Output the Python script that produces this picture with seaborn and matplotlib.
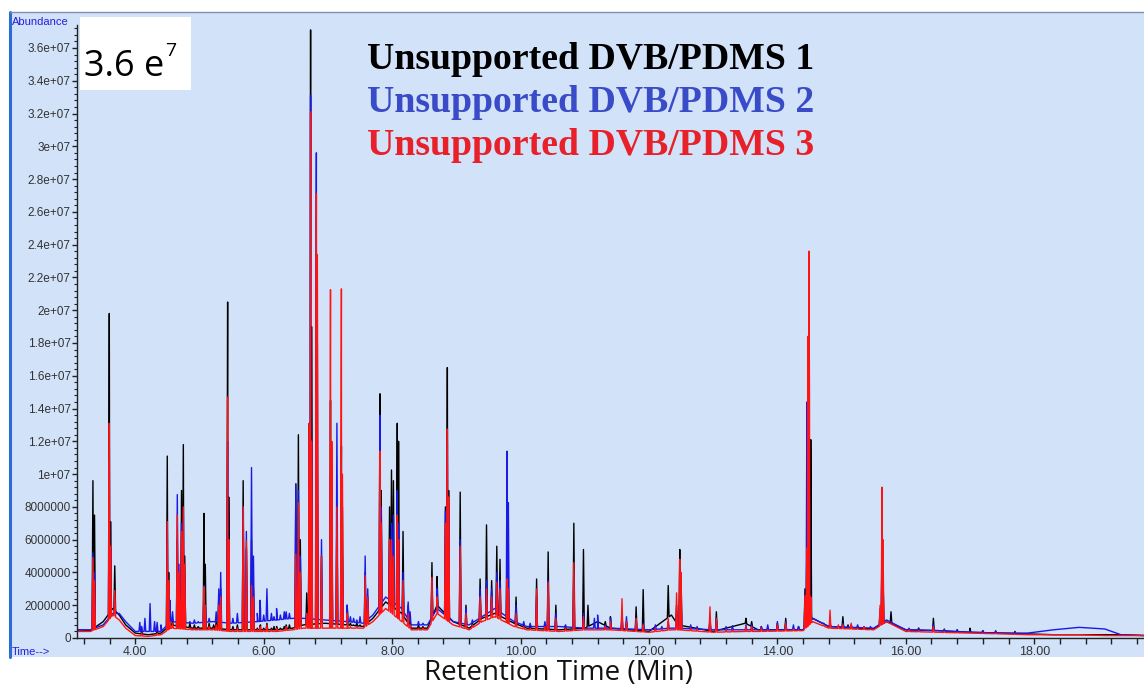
import numpy as np
import pandas as pd
import matplotlib
matplotlib.use("Agg")
import matplotlib.pyplot as plt
import seaborn as sns
from matplotlib.patches import Rectangle
from matplotlib.lines import Line2D
from matplotlib.ticker import MultipleLocator, FuncFormatter

# ---------------- data (abundance in millions) ----------------
series_names = ["Unsupported DVB/PDMS 1", "Unsupported DVB/PDMS 2", "Unsupported DVB/PDMS 3"]

peak_times = [3.34, 3.365, 3.595, 3.615, 3.68, 4.15, 4.23, 4.30, 4.498, 4.52,
              4.654, 4.68, 4.72, 4.748, 4.77, 5.07, 5.09, 5.30, 5.33, 5.438,
              5.455, 5.68, 5.73, 5.81, 5.84, 5.95, 6.05, 6.20, 6.35, 6.50,
              6.54, 6.57, 6.67, 6.71, 6.73, 6.745, 6.82, 6.835, 6.90, 7.04,
              7.06, 7.14, 7.21, 7.225, 7.30, 7.58, 7.62, 7.81, 7.83, 7.96,
              7.99, 8.02, 8.08, 8.10, 8.17, 8.25, 8.62, 8.70, 8.83, 8.86,
              8.88, 9.06, 9.15, 9.37, 9.47, 9.55, 9.63, 9.68, 9.79, 9.81,
              9.93, 10.25, 10.43, 10.55, 10.83, 10.98, 11.05, 11.20, 11.40, 11.58,
              11.65, 11.80, 11.91, 12.30, 12.43, 12.48, 12.50, 12.95, 13.05, 13.51,
              13.60, 14.00, 14.13, 14.43, 14.46, 14.475, 14.49, 14.50, 14.52, 14.82,
              15.02, 15.15, 15.60, 15.63, 15.645, 15.77, 16.43, 17.00]

black_peaks = [9.6, 7.5, 19.8, 7.1, 4.4, np.nan, np.nan, np.nan, 11.1, 4.0,
               6.0, 3.5, 9.0, 11.8, 5.0, 7.6, 4.5, 2.5, 3.0, 20.5,
               8.6, 9.6, 5.5, 6.0, 3.0, 0.8, 0.9, 0.7, 0.8, 9.4,
               12.4, 6.0, 2.75, 13.1, 37.1, 19.0, 14.0, 10.0, 5.0, 14.5,
               10.0, 8.0, 11.7, 8.0, 2.0, 4.0, 2.5, 14.9, 9.0, 8.0,
               10.25, 9.6, 13.1, 12.0, 6.5, 2.0, 4.6, 3.75, 8.0, 16.5,
               9.0, 8.9, 2.0, 3.6, 6.9, 3.5, 5.6, 4.8, 5.0, 3.0,
               2.5, 3.6, 5.25, 2.0, 7.0, 5.4, 2.0, np.nan, 1.3, 1.2,
               1.0, 1.9, 2.95, 3.2, 2.0, 5.4, 3.5, 1.3, 1.6, 1.2,
               1.0, 0.9, 1.2, 3.0, 6.0, 10.0, 8.0, 6.0, 12.1, 0.9,
               1.3, 0.8, 1.5, 5.3, 4.0, 1.6, 1.2, 0.6]

blue_peaks = [5.2, 4.0, 11.0, 5.5, 2.5, 1.2, 2.1, 1.0, 7.1, 3.0,
              8.75, 4.5, 7.0, 7.8, 4.0, 3.2, 2.0, 3.0, 4.0, 12.0,
              6.0, 8.0, 6.5, 10.4, 5.0, 1.8, 3.0, 1.8, 1.6, 9.4,
              9.0, 5.0, 1.5, 12.0, 33.1, 12.0, 29.6, 18.0, 6.0, 10.0,
              6.0, 13.1, 8.0, 5.0, 2.0, 5.0, 3.0, 13.6, 8.0, 6.0,
              7.0, 7.5, 9.0, 7.0, 4.0, 2.2, 3.5, 3.0, 7.75, 12.0,
              8.0, 6.0, 1.8, 3.0, 3.5, 3.0, 4.0, 3.5, 11.4, 8.25,
              2.0, 2.5, 3.5, 1.5, 4.0, 1.5, np.nan, 1.4, 1.2, 1.5,
              1.3, 1.2, 0.9, 1.0, 1.5, 3.0, 2.5, 1.0, 1.2, 0.8,
              0.8, 1.0, 1.0, 2.5, 14.4, 7.0, 12.0, 8.0, 2.5, 0.9,
              0.9, 0.7, 1.8, 6.4, 4.0, 1.0, 0.8, 0.4]

red_peaks = [4.9, 3.5, 13.1, 5.6, 2.9, np.nan, np.nan, np.nan, 7.1, 3.5,
             7.5, 4.0, 6.5, 8.0, 4.5, 3.1, 2.0, 2.0, 2.5, 14.7,
             6.0, 8.0, 5.9, 3.2, 2.5, 0.7, 0.8, 0.6, 0.7, 5.1,
             8.25, 4.0, 1.5, 13.1, 32.1, 12.0, 27.1, 23.4, 5.0, 21.25,
             12.0, 8.0, 21.3, 10.0, 1.5, 3.8, 2.5, 11.4, 7.0, 6.0,
             6.0, 5.0, 7.5, 6.0, 3.5, 1.5, 3.7, 2.5, 7.0, 12.75,
             8.6, 5.6, 1.5, 2.5, 3.0, 2.5, 3.4, 3.0, 3.6, 3.0,
             1.5, 3.0, 3.4, 1.2, 4.6, 1.3, np.nan, np.nan, 1.0, 2.4,
             1.0, 1.2, 0.8, 1.2, 2.75, 4.8, 4.0, 1.9, 1.2, 0.7,
             0.7, 0.8, 0.9, 2.6, 5.5, 18.4, 23.6, 15.0, 2.5, 1.7,
             0.8, 0.9, 2.0, 9.2, 6.0, 0.8, 0.7, 0.3]

# small baseline wiggles
noise_times = [4.07, 4.10, 4.34, 4.40, 4.54, 4.58, 4.85, 4.92, 4.98, 5.15,
               5.22, 5.26, 5.52, 5.59, 5.90, 5.94, 6.00, 6.12, 6.16, 6.26,
               6.32, 6.40, 7.35, 7.40, 7.45, 7.50, 8.28, 8.41, 8.48, 9.16,
               9.25, 10.05, 10.15, 10.38, 10.70, 11.15, 11.32, 12.10, 12.20, 12.65,
               12.75, 13.20, 13.30, 13.75, 13.85, 14.25, 14.33, 14.65, 14.72, 14.95,
               15.10, 15.25, 15.35, 15.45, 15.90, 16.05, 16.20, 16.60, 16.80, 17.20,
               17.40, 17.70]

black_noise = [np.nan, 0.4, 0.45, np.nan, 1.2, 1.0, 0.9, 0.8, 0.7, 0.9,
               0.8, 1.0, 0.7, 0.8, 0.6, 0.7, 0.6, 0.6, 0.7, 0.6,
               0.7, 0.8, 0.9, 0.8, 0.9, 0.8, 1.0, 0.8, 0.7, np.nan,
               0.9, 0.8, 0.8, 0.8, 0.7, np.nan, 1.0, 0.6, 0.6, 0.6,
               0.6, 0.6, 0.55, 0.7, 0.6, 0.6, 0.7, 0.9, 0.9, 0.7,
               0.8, 0.7, 0.65, 0.6, 0.65, 0.55, 0.6, 0.5, 0.5, 0.45,
               0.4, 0.4]

blue_noise = [0.95, 0.7, 0.95, 0.8, 2.3, 1.6, 1.0, 1.1, 1.0, 1.2,
              1.0, 1.6, 1.2, 1.5, 1.5, 2.3, 1.4, 1.5, 1.3, 1.4,
              1.6, 1.5, 1.3, 1.2, 1.1, 1.3, 1.6, 1.0, 0.9, 1.0,
              1.1, 1.0, 0.9, 1.0, 0.8, 1.2, 0.8, 0.8, 0.7, 0.8,
              0.7, 0.7, 0.75, 0.7, 0.8, 0.8, 0.7, 0.9, 0.8, 0.7,
              0.7, 0.8, 0.7, 0.7, 0.7, 0.6, 0.6, 0.55, 0.5, 0.45,
              0.45, 0.35]

red_noise = [np.nan, 0.3, 0.3, np.nan, 1.0, 0.9, 0.6, 0.6, 0.55, 0.7,
             0.6, 0.8, 0.5, 0.6, 0.5, 0.6, 0.5, 0.5, 0.45, 0.4,
             0.5, 0.5, 0.7, 0.6, 0.7, 0.6, 0.8, 0.6, 0.6, np.nan,
             0.8, 0.7, 0.6, 0.7, 0.6, np.nan, 0.7, 0.6, 0.55, 0.6,
             0.55, 0.5, 0.5, 0.6, 0.5, 0.55, 0.5, 0.8, 0.8, 0.8,
             0.6, 0.6, 0.7, 0.55, 0.55, 0.5, 0.45, 0.4, 0.35, 0.3,
             0.3, 0.25]

baseline_times = [3.09, 3.30, 3.50, 3.65, 3.75, 3.85, 4.00, 4.20, 4.40, 4.55,
                  4.90, 5.20, 5.50, 5.90, 6.20, 6.45, 6.62, 6.95, 7.30, 7.55,
                  7.70, 7.90, 8.15, 8.30, 8.55, 8.70, 8.95, 9.20, 9.40, 9.60,
                  9.90, 10.10, 10.60, 11.00, 11.20, 11.40, 12.00, 12.35, 12.45, 13.00,
                  13.50, 13.70, 14.40, 14.55, 14.80, 15.50, 15.70, 16.00, 16.50, 17.00,
                  17.50, 17.90, 18.30, 18.70, 19.10, 19.35, 19.72]

black_base = [0.5, 0.45, 1.0, 1.8, 1.4, 0.8, 0.3, 0.2, 0.3, 0.8,
              0.6, 0.6, 0.5, 0.5, 0.5, 0.6, 0.8, 0.9, 0.8, 0.7,
              1.2, 2.2, 1.5, 0.6, 0.6, 2.0, 1.0, 0.6, 1.2, 1.5,
              0.9, 0.6, 0.5, 0.6, 1.0, 0.6, 0.4, 1.4, 0.8, 0.4,
              0.9, 0.5, 0.5, 1.2, 0.7, 0.55, 1.0, 0.5, 0.45, 0.35,
              0.3, 0.25, 0.2, 0.2, 0.2, 0.2, 0.15]

blue_base = [0.5, 0.5, 0.8, 1.5, 1.5, 1.0, 0.4, 0.4, 0.4, 1.0,
             0.9, 1.0, 0.9, 1.0, 1.1, 1.2, 1.2, 1.1, 1.0, 0.9,
             1.4, 2.5, 1.8, 0.8, 0.8, 1.8, 1.0, 0.8, 1.3, 1.8,
             1.0, 0.7, 0.7, 0.6, 0.6, 0.6, 0.5, 0.6, 0.6, 0.5,
             0.5, 0.5, 0.5, 1.2, 0.7, 0.6, 1.1, 0.5, 0.45, 0.35,
             0.3, 0.3, 0.5, 0.65, 0.55, 0.2, 0.15]

red_base = [0.4, 0.4, 0.7, 1.4, 1.1, 0.6, 0.15, 0.1, 0.2, 0.6,
            0.5, 0.5, 0.4, 0.4, 0.4, 0.5, 0.6, 0.6, 0.6, 0.6,
            1.0, 1.8, 1.0, 0.5, 0.5, 1.5, 0.8, 0.5, 1.0, 1.3,
            0.7, 0.5, 0.4, 0.5, 0.5, 0.5, 0.35, 0.5, 0.5, 0.35,
            0.4, 0.4, 0.45, 1.0, 0.6, 0.5, 1.0, 0.4, 0.35, 0.3,
            0.25, 0.2, 0.2, 0.2, 0.15, 0.15, 0.15]

line_colors = ["#000000", "#1A1AE6", "#FF1414"]
label_colors = ["#000000", "#3A4BC8", "#E8202A"]

# ---------------- build chromatogram traces ----------------
HW = 0.013  # half width of a peak (minutes)


def build_trace(base_vals, peak_vals, noise_vals):
    bt = np.array(baseline_times)
    bv = np.array(base_vals)
    t = list(bt)
    y = list(bv)
    all_t = list(peak_times) + list(noise_times)
    all_v = list(peak_vals) + list(noise_vals)
    for pt, ph in zip(all_t, all_v):
        if np.isnan(ph):
            continue
        for dt in (-HW, HW):
            t.append(pt + dt)
            y.append(np.interp(pt + dt, bt, bv))
        t.append(pt)
        y.append(max(ph, np.interp(pt, bt, bv)))
    order = np.argsort(t, kind="stable")
    return np.array(t)[order], np.array(y)[order] * 1e6


frames = []
for name, b, p, n in zip(series_names,
                         [black_base, blue_base, red_base],
                         [black_peaks, blue_peaks, red_peaks],
                         [black_noise, blue_noise, red_noise]):
    tt, yy = build_trace(b, p, n)
    frames.append(pd.DataFrame({"time": tt, "abundance": yy, "sample": name}))
df = pd.concat(frames, ignore_index=True)

# ---------------- figure ----------------
sns.set_theme(style="white")
plt.rcParams["font.family"] = ["Liberation Sans", "DejaVu Sans"]

W, H = 1144, 687
fig = plt.figure(figsize=(W / 100, H / 100), dpi=100)
panel = "#D2E2F8"


def fx(px):
    return px / W


def fy(py):
    return 1 - py / H


fig.patches.append(Rectangle((fx(10), fy(657)), fx(1134), (657 - 12) / H,
                             transform=fig.transFigure, facecolor=panel,
                             edgecolor="none", zorder=-5))
fig.lines.append(Line2D([fx(10), fx(10)], [fy(12), fy(657)], color="#2F6AD6",
                        lw=2.2, transform=fig.transFigure, zorder=-4))
fig.lines.append(Line2D([fx(10), 1], [fy(12), fy(12)], color="#7F8FB5",
                        lw=1.0, transform=fig.transFigure, zorder=-4))

ax = fig.add_axes([fx(77), fy(638), 1 - fx(77), (638 - 25) / H])
ax.set_facecolor(panel)
ax.set_zorder(1)

sns.lineplot(data=df, x="time", y="abundance", hue="sample",
             hue_order=series_names, palette=line_colors, estimator=None,
             sort=False, lw=1.0, legend=False, ax=ax)

ax.set_xlim(3.092, 19.71)
ax.set_ylim(0, 37.4e6)
ax.set_xlabel("")
ax.set_ylabel("")
for s in ["top", "right"]:
    ax.spines[s].set_visible(False)
for s in ["left", "bottom"]:
    ax.spines[s].set_color("#222222")
    ax.spines[s].set_linewidth(1.0)

ax.xaxis.set_major_locator(MultipleLocator(2))
ax.xaxis.set_minor_locator(MultipleLocator(0.4))
ax.yaxis.set_major_locator(MultipleLocator(2e6))
ax.yaxis.set_minor_locator(MultipleLocator(4e5))
ax.xaxis.set_major_formatter(FuncFormatter(lambda v, p: f"{v:.2f}"))


def yfmt(v, p):
    if v < 1e7:
        return f"{int(round(v))}"
    return f"{v:g}"


ax.yaxis.set_major_formatter(FuncFormatter(yfmt))
ax.tick_params(axis="x", which="both", direction="out", length=4.5, width=1,
               color="#222222", labelsize=9, labelcolor="#333333", pad=1.5, bottom=True)
ax.tick_params(axis="y", which="major", direction="out", length=3.5, width=1,
               color="#222222", labelsize=8.5, labelcolor="#333333", pad=1, left=True)
ax.tick_params(axis="y", which="minor", direction="out", length=2, width=0.8,
               color="#222222", left=True)

# panel labels
fig.text(fx(12), fy(22), "Abundance", color="#2020E0", fontsize=8, va="center", ha="left")
fig.text(fx(12), fy(652), "Time-->", color="#2020E0", fontsize=8, va="center", ha="left")

# scale box (drawn above the axes)
fig.patches.append(Rectangle((fx(80), fy(90)), fx(111), (90 - 17) / H,
                             transform=fig.transFigure, facecolor="white",
                             edgecolor="none", zorder=5))
fig.text(fx(84), fy(76), "3.6 e", fontsize=26, family="Open Sans", color="black",
         va="baseline", ha="left", zorder=6)
fig.text(fx(165), fy(56), "7", fontsize=14, family="Open Sans", color="black",
         va="baseline", ha="left", zorder=6)

# series labels
for name, c, base in zip(series_names, label_colors, [69, 112, 155]):
    fig.text(fx(367), fy(base), name, color=c, fontsize=27.2, fontweight="bold",
             family="Liberation Serif", va="baseline", ha="left", zorder=6)

fig.text(fx(558), fy(680), "Retention Time (Min)", fontsize=20, family="Open Sans",
         color="#111111", ha="center", va="baseline")

fig.savefig("out.png", dpi=100)
